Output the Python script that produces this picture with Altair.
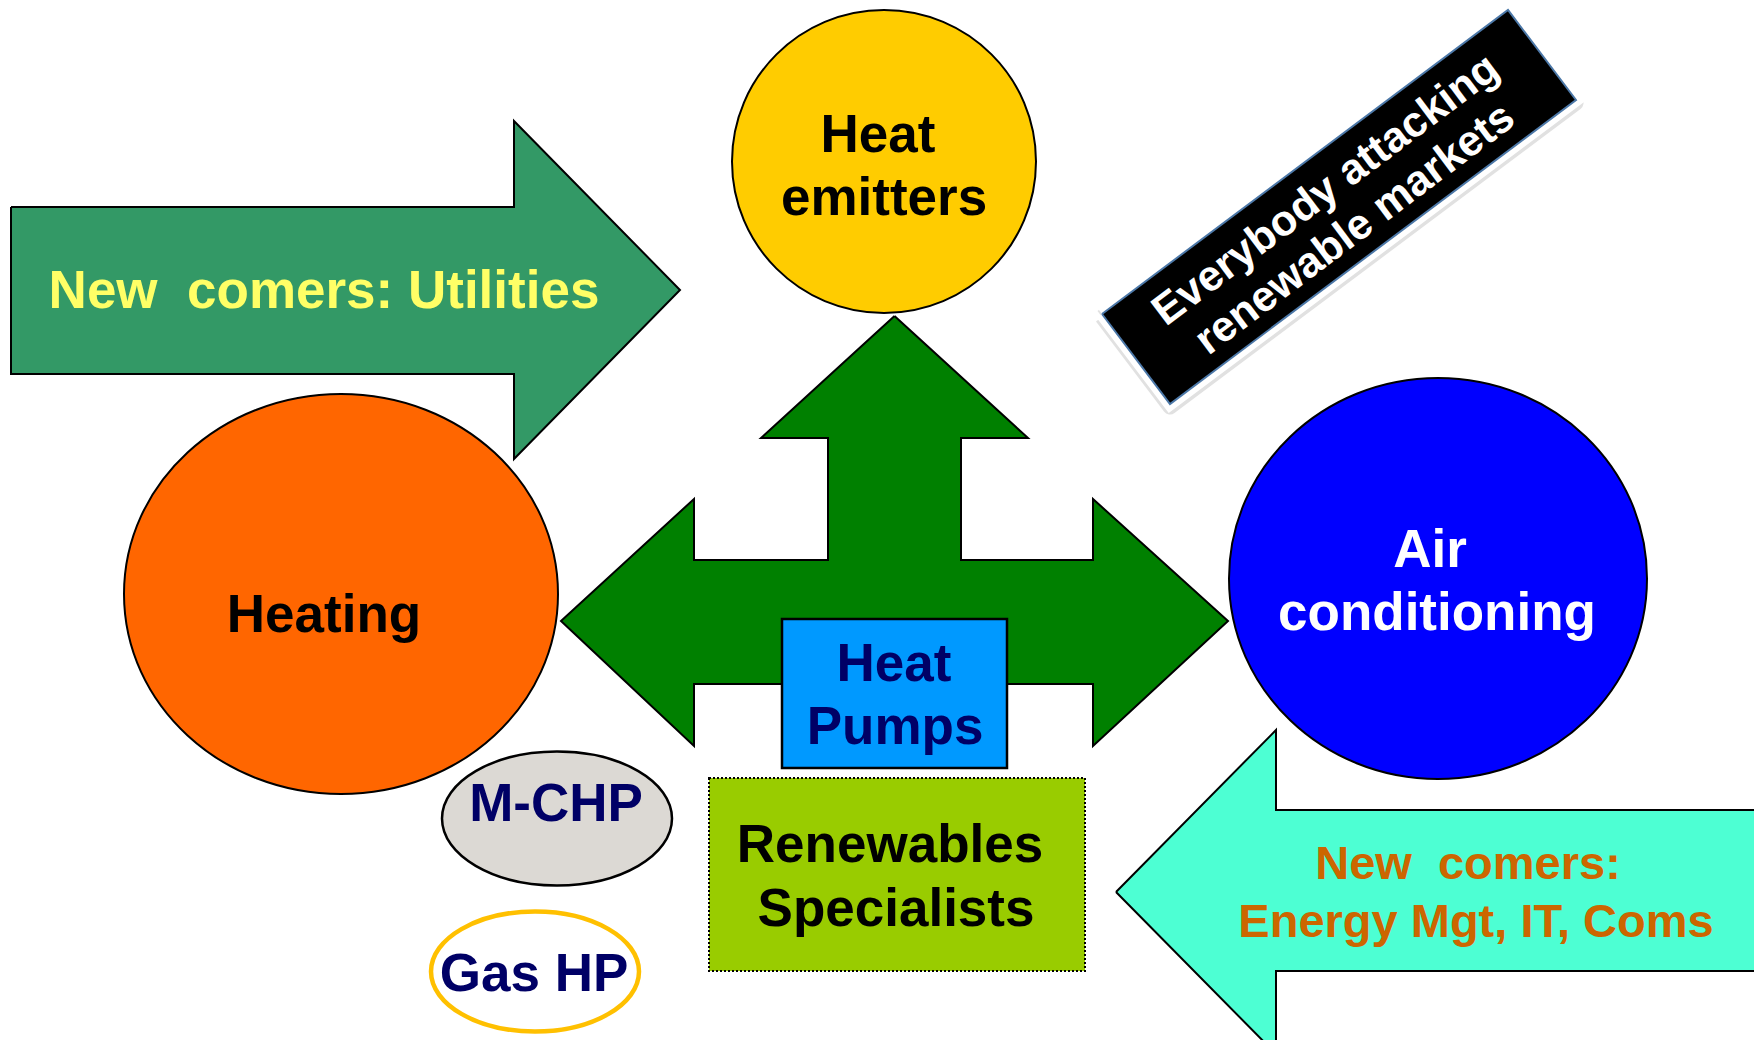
import altair as alt
import pandas as pd

# ---------------- canvas (reference pixel coordinates) ----------------
X_DOMAIN = [8, 1754]
Y_DOMAIN = [8, 1040]
W, H = 1746, 1032

# ---------------- polygons (arrows, tilted banner) ----------------
utilities_x = [11, 514, 514, 680, 514, 514, 11, 11]
utilities_y = [207, 207, 121, 290, 459, 374, 374, 207]

cross_x = [894.5, 1028, 961, 961, 1093, 1093, 1228, 1093, 1093, 694, 694, 561, 694, 694, 828, 828, 761, 894.5]
cross_y = [316, 438, 438, 560, 560, 499, 621, 746, 684, 684, 746, 621, 499, 560, 560, 438, 438, 316]

newcomers_x = [1116, 1276, 1276, 1757, 1757, 1276, 1276, 1116]
newcomers_y = [892, 730, 810, 810, 971, 971, 1054, 892]

banner_x = [1102, 1508, 1576, 1170, 1102]
banner_y = [314, 10, 100, 404, 314]
banner_shadow_dx, banner_shadow_dy = 0, 3

# ---------------- rectangles ----------------
rect_names = ["Heat Pumps", "Renewables Specialists"]
rect_x1 = [782, 709]
rect_x2 = [1007, 1085]
rect_y1 = [619, 778]
rect_y2 = [768, 971]

# ---------------- ellipses ----------------
ell_names = ["Heat emitters", "Heating", "Air conditioning", "M-CHP", "Gas HP"]
ell_cx = [884, 341, 1438, 557, 535]
ell_cy = [161.5, 594, 578.5, 818.5, 971.5]
ell_rx = [152, 217, 209, 115, 104]
ell_ry = [151.5, 200, 200.5, 67, 60]
ell_fill = ["#FFCC00", "#FF6600", "#0000FF", "#DCD9D4", "#FFFFFF"]
ell_stroke = ["#000000", "#000000", "#000000", "#000000", "#FFC000"]
ell_sw = [2, 2, 2, 2.5, 4.5]

# ---------------- labels ----------------
labels = ["Heat", "emitters", "New\u00a0 comers: Utilities", "Heating", "Air", "conditioning",
          "Heat", "Pumps", "M-CHP", "Gas HP", "Renewables", "Specialists",
          "New\u00a0 comers:", "Energy Mgt, IT, Coms"]
label_x = [878, 884, 324, 324, 1430, 1437, 894, 895, 556, 534, 890, 896, 1468, 1476]
label_y = [152, 215, 308, 632, 567, 630, 681, 744, 821, 991, 862, 926, 879, 937]
label_size = [53, 53, 53, 53, 53, 53, 53, 53, 53, 53, 53, 53, 47, 47]
label_color = ["#000000", "#000000", "#FFFF66", "#000000", "#FFFFFF", "#FFFFFF",
               "#000066", "#000066", "#000066", "#000066", "#000000", "#000000",
               "#CC6600", "#CC6600"]

banner_labels = ["Everybody attacking", "renewable markets"]
banner_label_x = [1326, 1355]
banner_label_y = [190, 229]
banner_angle = 323
banner_size = 43

FONT = "Liberation Sans"

# ---------------- scales ----------------
xs = alt.Scale(domain=X_DOMAIN, nice=False, zero=False)
ys = alt.Scale(domain=Y_DOMAIN, nice=False, zero=False, reverse=True)


def X(f="x"):
    return alt.X(f"{f}:Q", scale=xs, axis=None)


def Y(f="y"):
    return alt.Y(f"{f}:Q", scale=ys, axis=None)


def poly(xv, yv, join="miter", **mark):
    df = pd.DataFrame({"x": xv, "y": yv, "i": list(range(len(xv)))})
    return alt.Chart(df).mark_line(interpolate="linear", strokeJoin=join, **mark).encode(
        x=X(), y=Y(), order=alt.Order("i:Q")
    )


def ellipse_path(k):
    c = 0.5523
    return (f"M 1 0 C 1 {c*k:.4f} {c} {k:.4f} 0 {k:.4f} "
            f"C {-c} {k:.4f} -1 {c*k:.4f} -1 0 "
            f"C -1 {-c*k:.4f} {-c} {-k:.4f} 0 {-k:.4f} "
            f"C {c} {-k:.4f} 1 {-c*k:.4f} 1 0 Z")


utilities = poly(utilities_x, utilities_y, fill="#339966", stroke="#000000", strokeWidth=2)
cross = poly(cross_x, cross_y, fill="#008000", stroke="#000000", strokeWidth=2)
newcomers = poly(newcomers_x, newcomers_y, fill="#4DFFD3", stroke="#000000", strokeWidth=2)
shadow = poly([v + banner_shadow_dx for v in banner_x], [v + banner_shadow_dy for v in banner_y],
              join="round", fill="#AAAAAA", stroke="#AAAAAA", strokeWidth=15, opacity=0.35)
frame = poly(banner_x, banner_y, fill="#FFFFFF", stroke="#FFFFFF", strokeWidth=13)
banner = poly(banner_x, banner_y, fill="#000000")

rects = pd.DataFrame({"name": rect_names, "x1": rect_x1, "x2": rect_x2, "y1": rect_y1, "y2": rect_y2})
heat_pumps = alt.Chart(rects.iloc[[0]]).mark_rect(fill="#0099FF", stroke="#000000", strokeWidth=2.5).encode(
    x=X("x1"), x2="x2:Q", y=Y("y1"), y2="y2:Q")
renewables = alt.Chart(rects.iloc[[1]]).mark_rect(fill="#99CC00", stroke="#000000", strokeWidth=2,
                                                  strokeDash=[2, 2]).encode(
    x=X("x1"), x2="x2:Q", y=Y("y1"), y2="y2:Q")

ell = pd.DataFrame({
    "name": ell_names, "x": ell_cx, "y": ell_cy,
    "size": [(2 * r) ** 2 for r in ell_rx],
    "path": [ellipse_path(ry / rx) for rx, ry in zip(ell_rx, ell_ry)],
    "fill": ell_fill, "stroke": ell_stroke, "sw": ell_sw,
})
ellipses = alt.Chart(ell).mark_point(filled=True, opacity=1).encode(
    x=X(), y=Y(),
    size=alt.Size("size:Q", scale=None),
    shape=alt.Shape("path:N", scale=None),
    color=alt.Color("fill:N", scale=None),
    stroke=alt.Stroke("stroke:N", scale=None),
    strokeWidth=alt.StrokeWidth("sw:Q", scale=None),
)

txt = pd.DataFrame({"label": labels, "x": label_x, "y": label_y, "size": label_size, "color": label_color})
texts = alt.Chart(txt).mark_text(font=FONT, fontWeight="bold", align="center", baseline="alphabetic").encode(
    x=X(), y=Y(), text="label:N",
    size=alt.Size("size:Q", scale=None),
    color=alt.Color("color:N", scale=None),
)

btxt = pd.DataFrame({"label": banner_labels, "x": banner_label_x, "y": banner_label_y})
banner_text = alt.Chart(btxt).mark_text(font=FONT, fontWeight="bold", align="center", baseline="middle",
                                        angle=banner_angle, fontSize=banner_size, color="#FFFFFF").encode(
    x=X(), y=Y(), text="label:N")

chart = alt.layer(
    utilities, cross, heat_pumps, newcomers, ellipses, renewables, shadow, frame, banner, texts, banner_text
).properties(
    width=W, height=H, autosize=alt.AutoSizeParams(type="none"), padding=0, background="#FFFFFF"
).configure_view(stroke=None)

chart.save("out.html", embed_options={"renderer": "svg", "actions": False})
